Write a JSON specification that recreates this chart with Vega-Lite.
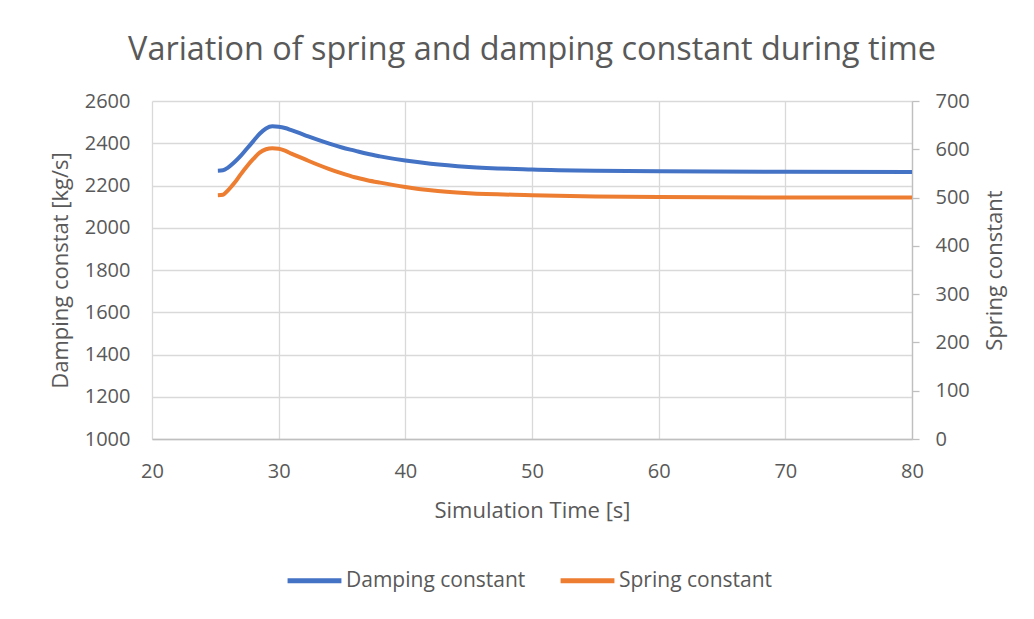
{
  "$schema": "https://vega.github.io/schema/vega-lite/v6.json",
  "width": 760,
  "height": 338,
  "autosize": {"type": "none"},
  "padding": {"left": 152, "top": 101, "right": 122, "bottom": 180},
  "background": "white",
  "title": {
    "text": "Variation of spring and damping constant during time",
    "font": "Open Sans",
    "fontSize": 32.4,
    "fontWeight": "normal",
    "color": "#595959",
    "anchor": "middle",
    "offset": 25,
    "frame": "group"
  },
  "config": {
    "view": {"stroke": null},
    "axis": {
      "labelFont": "Open Sans",
      "titleFont": "Open Sans",
      "labelColor": "#595959",
      "titleColor": "#595959",
      "labelFontSize": 20,
      "titleFontSize": 22,
      "titleFontWeight": "normal",
      "gridColor": "#d9d9d9",
      "gridWidth": 1.3,
      "labelFlush": false,
      "format": "d"
    }
  },
  "data": {
    "values": [
      {"t": 25.2, "damping": 2270, "spring": 505},
      {"t": 25.6, "damping": 2272, "spring": 506},
      {"t": 26.0, "damping": 2285, "spring": 515},
      {"t": 26.5, "damping": 2310, "spring": 530},
      {"t": 27.0, "damping": 2340, "spring": 548},
      {"t": 27.5, "damping": 2375, "spring": 565},
      {"t": 28.0, "damping": 2410, "spring": 580},
      {"t": 28.5, "damping": 2445, "spring": 593},
      {"t": 29.0, "damping": 2470, "spring": 600},
      {"t": 29.5, "damping": 2480, "spring": 602},
      {"t": 30.0, "damping": 2478, "spring": 601},
      {"t": 30.5, "damping": 2472, "spring": 597},
      {"t": 31.0, "damping": 2462, "spring": 591},
      {"t": 32.0, "damping": 2440, "spring": 580},
      {"t": 33.0, "damping": 2418, "spring": 569},
      {"t": 34.0, "damping": 2398, "spring": 559},
      {"t": 35.0, "damping": 2380, "spring": 550},
      {"t": 36.0, "damping": 2365, "spring": 542},
      {"t": 37.0, "damping": 2350, "spring": 536},
      {"t": 38.0, "damping": 2338, "spring": 531},
      {"t": 40.0, "damping": 2318, "spring": 522},
      {"t": 42.0, "damping": 2303, "spring": 515},
      {"t": 45.0, "damping": 2288, "spring": 509},
      {"t": 50.0, "damping": 2276, "spring": 505},
      {"t": 55.0, "damping": 2270, "spring": 502},
      {"t": 60.0, "damping": 2267, "spring": 501},
      {"t": 70.0, "damping": 2265, "spring": 500},
      {"t": 80.0, "damping": 2264, "spring": 500}
    ]
  },
  "encoding": {
    "x": {
      "field": "t",
      "type": "quantitative",
      "scale": {"domain": [20, 80], "nice": false, "zero": false},
      "axis": {
        "title": "Simulation Time [s]",
        "values": [20, 30, 40, 50, 60, 70, 80],
        "ticks": false,
        "domainColor": "#bfbfbf",
        "domainWidth": 1.3,
        "labelPadding": 22,
        "titlePadding": 19
      }
    }
  },
  "layer": [
    {
      "mark": {"type": "line", "strokeWidth": 4, "interpolate": "monotone"},
      "encoding": {
        "y": {
          "field": "damping",
          "type": "quantitative",
          "scale": {"domain": [1000, 2600], "nice": false, "zero": false},
          "axis": {
            "title": "Damping constat [kg/s]",
            "values": [1000, 1200, 1400, 1600, 1800, 2000, 2200, 2400, 2600],
            "ticks": false,
            "domain": false,
            "labelPadding": 22,
            "titlePadding": 12
          }
        },
        "color": {
          "datum": "Damping constant",
          "type": "nominal",
          "scale": {"domain": ["Damping constant", "Spring constant"], "range": ["#4472C4", "#ED7D31"]},
          "legend": {
            "title": null,
            "orient": "none",
            "direction": "horizontal",
            "legendX": 133,
            "legendY": 450,
            "symbolType": "stroke",
            "symbolSize": 2900,
            "symbolStrokeWidth": 5,
            "labelFont": "Open Sans",
            "labelFontSize": 21,
            "labelColor": "#595959",
            "labelLimit": 400,
            "columnPadding": 24,
            "labelOffset": 2
          }
        }
      }
    },
    {
      "mark": {"type": "line", "strokeWidth": 4, "interpolate": "monotone"},
      "encoding": {
        "y": {
          "field": "spring",
          "type": "quantitative",
          "scale": {"domain": [0, 700], "nice": false},
          "axis": {
            "title": "Spring constant",
            "orient": "right",
            "titleAngle": 270,
            "titleBaseline": "top",
            "values": [0, 100, 200, 300, 400, 500, 600, 700],
            "grid": false,
            "domainColor": "#bfbfbf",
            "domainWidth": 1.3,
            "tickColor": "#bfbfbf",
            "tickSize": 7,
            "tickWidth": 1.3,
            "labelPadding": 16,
            "titlePadding": 15
          }
        },
        "color": {"datum": "Spring constant", "type": "nominal"}
      }
    }
  ],
  "resolve": {"scale": {"y": "independent"}}
}
